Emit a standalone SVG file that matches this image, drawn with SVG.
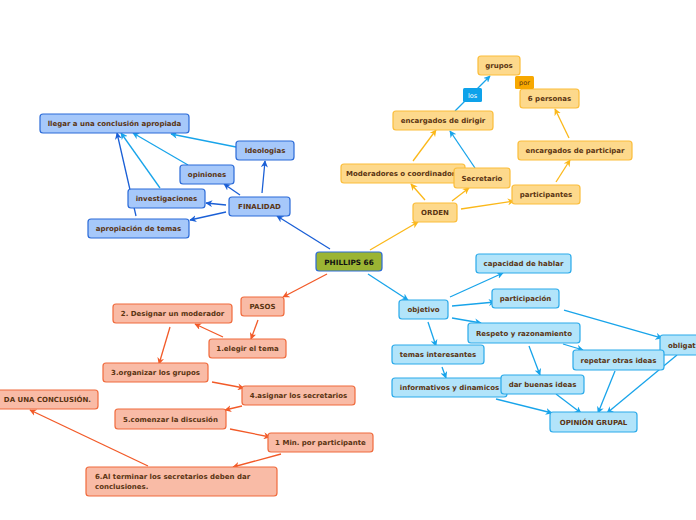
<svg xmlns="http://www.w3.org/2000/svg" width="696" height="520" viewBox="0 0 696 520">
<defs>
<marker id="mDB" viewBox="0 0 10 10" refX="9" refY="5" markerWidth="7" markerHeight="7" markerUnits="userSpaceOnUse" orient="auto"><path d="M0,0 L10,5 L0,10 L3,5 z" fill="#1a5fd6"/></marker>
<marker id="mLB" viewBox="0 0 10 10" refX="9" refY="5" markerWidth="7" markerHeight="7" markerUnits="userSpaceOnUse" orient="auto"><path d="M0,0 L10,5 L0,10 L3,5 z" fill="#18a4ea"/></marker>
<marker id="mOR" viewBox="0 0 10 10" refX="9" refY="5" markerWidth="7" markerHeight="7" markerUnits="userSpaceOnUse" orient="auto"><path d="M0,0 L10,5 L0,10 L3,5 z" fill="#fbb81a"/></marker>
<marker id="mRD" viewBox="0 0 10 10" refX="9" refY="5" markerWidth="7" markerHeight="7" markerUnits="userSpaceOnUse" orient="auto"><path d="M0,0 L10,5 L0,10 L3,5 z" fill="#f25a28"/></marker>
</defs>
<style>
text{font-family:"DejaVu Sans",Verdana,sans-serif;font-weight:bold;font-size:7px;fill:#5a3412;text-anchor:middle}
.db rect{fill:#a6c8fa;stroke:#2a6ad8;stroke-width:1.2}
.or rect{fill:#fdd98c;stroke:#fbbd3a;stroke-width:1.2}
.rd rect{fill:#f9bba6;stroke:#f06a3c;stroke-width:1.2}
.lb rect{fill:#b2e4fa;stroke:#2aaaea;stroke-width:1.2}
.cdb{stroke:#1a5fd6;stroke-width:1.3;fill:none;marker-end:url(#mDB)}
.clb{stroke:#18a4ea;stroke-width:1.3;fill:none;marker-end:url(#mLB)}
.cor{stroke:#fbb81a;stroke-width:1.3;fill:none;marker-end:url(#mOR)}
.crd{stroke:#f25a28;stroke-width:1.3;fill:none;marker-end:url(#mRD)}
</style>
<g id="connectors">
<line class="cdb" x1="330" y1="249" x2="277" y2="216"/>
<line class="cdb" x1="262" y1="193" x2="265" y2="161"/>
<line class="cdb" x1="240" y1="195" x2="224" y2="184"/>
<line class="cdb" x1="226" y1="205" x2="206" y2="203"/>
<line class="cdb" x1="226" y1="212" x2="190" y2="220"/>
<line class="cdb" x1="136" y1="216" x2="117" y2="133"/>
<line class="clb" x1="160" y1="188" x2="121" y2="133"/>
<line class="clb" x1="188" y1="165" x2="133" y2="133"/>
<line class="clb" x1="236" y1="147" x2="171" y2="134"/>
<line class="cor" x1="370" y1="250" x2="418" y2="222"/>
<line class="cor" x1="425" y1="200" x2="411" y2="184"/>
<line class="cor" x1="452" y1="201" x2="469" y2="188"/>
<line class="cor" x1="461" y1="209" x2="514" y2="201"/>
<line class="cor" x1="413" y1="161" x2="436" y2="130"/>
<line class="clb" x1="475" y1="168" x2="450" y2="131"/>
<line class="clb" x1="455" y1="111" x2="490" y2="76"/>
<line class="cor" x1="556" y1="182" x2="570" y2="160"/>
<line class="cor" x1="569" y1="138" x2="555" y2="109"/>
<line class="crd" x1="327" y1="274" x2="283" y2="297"/>
<line class="crd" x1="258" y1="320" x2="251" y2="339"/>
<line class="crd" x1="223" y1="337" x2="195" y2="324"/>
<line class="crd" x1="170" y1="327" x2="159" y2="364"/>
<line class="crd" x1="212" y1="382" x2="244" y2="388"/>
<line class="crd" x1="242" y1="406" x2="225" y2="410"/>
<line class="crd" x1="230" y1="429" x2="270" y2="437"/>
<line class="crd" x1="281" y1="454" x2="233" y2="467"/>
<line class="crd" x1="148" y1="466" x2="30" y2="410"/>
<line class="clb" x1="368" y1="274" x2="408" y2="300"/>
<line class="clb" x1="450" y1="297" x2="503" y2="273"/>
<line class="clb" x1="452" y1="306" x2="495" y2="302"/>
<line class="clb" x1="452" y1="318" x2="481" y2="323"/>
<line class="clb" x1="428" y1="322" x2="436" y2="346"/>
<line class="clb" x1="442" y1="367" x2="446" y2="378"/>
<line class="clb" x1="529" y1="346" x2="540" y2="375"/>
<line class="clb" x1="563" y1="344" x2="583" y2="350"/>
<line class="clb" x1="564" y1="310" x2="662" y2="338"/>
<line class="clb" x1="496" y1="399" x2="552" y2="413"/>
<line class="clb" x1="556" y1="394" x2="581" y2="413"/>
<line class="clb" x1="615" y1="371" x2="598" y2="413"/>
<line class="clb" x1="677" y1="355" x2="607" y2="413"/>
</g>
<g id="phillips"><rect x="316" y="252" width="66" height="19" rx="3" fill="#9bb433" stroke="#2a6ad8" stroke-width="1.2"/><text x="349" y="264.5" style="fill:#111;font-size:7.3px">PHILLIPS 66</text></g>
<g id="llegar" class="db"><rect x="40" y="114" width="149" height="19" rx="3"/><text x="114.5" y="126">llegar a una conclusión apropiada</text></g>
<g id="ideologias" class="db"><rect x="236" y="141" width="58" height="19" rx="3"/><text x="265" y="153">Ideologias</text></g>
<g id="opiniones" class="db"><rect x="180" y="165" width="54" height="19" rx="3"/><text x="207" y="177">opiniones</text></g>
<g id="investigaciones" class="db"><rect x="128" y="189" width="77" height="19" rx="3"/><text x="166.5" y="201">investigaciones</text></g>
<g id="finalidad" class="db"><rect x="229" y="197" width="61" height="19" rx="3"/><text x="259.5" y="209">FINALIDAD</text></g>
<g id="apropiacion" class="db"><rect x="88" y="219" width="101" height="19" rx="3"/><text x="138.5" y="231">apropiación de temas</text></g>
<g id="grupos" class="or"><rect x="478" y="56" width="42" height="19" rx="3"/><text x="499" y="68">grupos</text></g>
<g id="seis" class="or"><rect x="520" y="89" width="59" height="19" rx="3"/><text x="549.5" y="101">6 personas</text></g>
<g id="dirigir" class="or"><rect x="393" y="111" width="100" height="19" rx="3"/><text x="443" y="123">encargados de dirigir</text></g>
<g id="moderadores" class="or"><rect x="341" y="164" width="124" height="19" rx="3"/><text x="346" y="176" style="text-anchor:start">Moderadores o coordinadores</text></g>
<g id="secretario" class="or"><rect x="454" y="168" width="56" height="20" rx="3"/><text x="482" y="180.5">Secretario</text></g>
<g id="participar" class="or"><rect x="518" y="141" width="114" height="19" rx="3"/><text x="575" y="153">encargados de participar</text></g>
<g id="participantes" class="or"><rect x="512" y="185" width="68" height="19" rx="3"/><text x="546" y="197">participantes</text></g>
<g id="orden" class="or"><rect x="413" y="203" width="44" height="19" rx="3"/><text x="435" y="215">ORDEN</text></g>
<g id="lbl-los"><rect x="463" y="88" width="19" height="14" rx="1.5" fill="#0ea2ea"/><text x="472.5" y="97.5" style="fill:#fff;font-weight:normal;font-size:6.5px">los</text></g>
<g id="lbl-por"><rect x="515" y="76" width="19" height="13" rx="1.5" fill="#f7a800"/><text x="524.5" y="85" style="fill:#5a3412;font-weight:normal;font-size:6.5px">por</text></g>
<g id="pasos" class="rd"><rect x="241" y="297" width="43" height="19" rx="3"/><text x="262.5" y="309">PASOS</text></g>
<g id="designar" class="rd"><rect x="113" y="304" width="119" height="19" rx="3"/><text x="172.5" y="316">2. Designar un moderador</text></g>
<g id="elegir" class="rd"><rect x="209" y="339" width="77" height="19" rx="3"/><text x="247.5" y="351">1.elegir el tema</text></g>
<g id="organizar" class="rd"><rect x="103" y="363" width="105" height="19" rx="3"/><text x="155.5" y="375">3.organizar los grupos</text></g>
<g id="asignar" class="rd"><rect x="242" y="386" width="113" height="19" rx="3"/><text x="298.5" y="398">4.asignar los secretarios</text></g>
<g id="conclusion" class="rd"><rect x="-40" y="390" width="138" height="19" rx="3"/><text x="91" y="402" style="text-anchor:end">DA UNA CONCLUSIÓN.</text></g>
<g id="comenzar" class="rd"><rect x="115" y="409" width="111" height="20" rx="3"/><text x="170.5" y="421.5">5.comenzar la discusión</text></g>
<g id="minuto" class="rd"><rect x="268" y="433" width="105" height="19" rx="3"/><text x="320.5" y="445">1 Min. por participante</text></g>
<g id="terminar" class="rd"><rect x="86" y="467" width="191" height="29" rx="3"/><text x="95" y="479" style="text-anchor:start">6.Al terminar los secretarios deben dar</text><text x="95" y="488.5" style="text-anchor:start">conclusiones.</text></g>
<g id="capacidad" class="lb"><rect x="476" y="254" width="95" height="19" rx="3"/><text x="523.5" y="266">capacidad de hablar</text></g>
<g id="objetivo" class="lb"><rect x="399" y="300" width="49" height="19" rx="3"/><text x="423.5" y="312">objetivo</text></g>
<g id="participacion" class="lb"><rect x="492" y="289" width="67" height="19" rx="3"/><text x="525.5" y="301">participación</text></g>
<g id="respeto" class="lb"><rect x="468" y="323" width="112" height="20" rx="3"/><text x="524" y="335.5">Respeto y razonamiento</text></g>
<g id="obligatorio" class="lb"><rect x="660" y="335" width="60" height="20" rx="3"/><text x="668" y="347.5" style="text-anchor:start">obligat</text></g>
<g id="temas" class="lb"><rect x="392" y="345" width="92" height="19" rx="3"/><text x="438" y="357">temas interesantes</text></g>
<g id="repetar" class="lb"><rect x="573" y="350" width="91" height="20" rx="3"/><text x="618.5" y="362.5">repetar otras ideas</text></g>
<g id="informativos" class="lb"><rect x="392" y="378" width="115" height="19" rx="3"/><text x="449.5" y="390">informativos y dinamicos</text></g>
<g id="buenas" class="lb"><rect x="501" y="375" width="83" height="19" rx="3"/><text x="542.5" y="387">dar buenas ideas</text></g>
<g id="opinion" class="lb"><rect x="550" y="412" width="87" height="20" rx="3"/><text x="593.5" y="424.5">OPINIÓN GRUPAL</text></g>
</svg>
